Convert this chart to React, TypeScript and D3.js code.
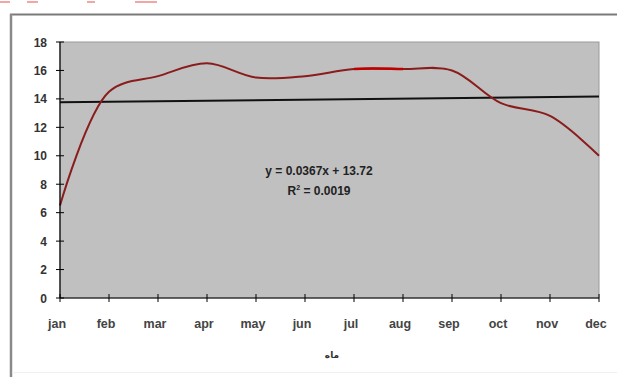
import React from "react";
import * as d3 from "d3";

const months = ["jan", "feb", "mar", "apr", "may", "jun", "jul", "aug", "sep", "oct", "nov", "dec"];
const values = [6.5, 14.5, 15.6, 16.5, 15.5, 15.6, 16.1, 16.1, 16.0, 13.7, 12.8, 10.0];
const yTicks = [0, 2, 4, 6, 8, 10, 12, 14, 16, 18];
const trendSlope = 0.0367;
const trendIntercept = 13.72;
const equationLines = ["y = 0.0367x + 13.72", "R² = 0.0019"];
const xTitle = "ماه";

const W = 617, H = 377;
const left = 60, right = 599, top = 42, bottom = 298;

export default function App() {
  const x = d3.scalePoint<string>().domain(months).range([left, right]);
  const y = d3.scaleLinear().domain([0, 18]).range([bottom, top]);
  const line = d3
    .line<number>()
    .x((_, i) => x(months[i]) as number)
    .y((d) => y(d))
    .curve(d3.curveCatmullRom.alpha(0.5));
  const t1 = trendIntercept + trendSlope * 1;
  const t12 = trendIntercept + trendSlope * 12;
  const font = "'Liberation Sans', Arial, sans-serif";
  const pathD = line(values) || "";
  const xj = x("jul") as number;
  const xa = x("aug") as number;
  return (
    <svg width={W} height={H} style={{ position: "absolute", left: 0, top: 0, background: "#fff" }}>
      <defs>
        <clipPath id="hl">
          <rect x={xj} y={top} width={xa - xj} height={bottom - top} />
        </clipPath>
      </defs>
      {/* cropped artifacts at top */}
      <g stroke="#e88" strokeWidth={1.5}>
        <line x1={0} x2={10} y1={2} y2={2} />
        <line x1={27} x2={38} y1={2} y2={2} />
        <line x1={87} x2={95} y1={2} y2={2} />
        <line x1={135} x2={157} y1={2} y2={2} />
      </g>
      {/* outer frame */}
      <line x1={10} x2={W} y1={14.5} y2={14.5} stroke="#7a7a7a" strokeWidth={2} />
      <line x1={11} x2={11} y1={14} y2={H} stroke="#8a8a8a" strokeWidth={2.5} />
      <line x1={12} x2={W} y1={372.5} y2={372.5} stroke="#f0f0f0" strokeWidth={1} />
      {/* plot area */}
      <rect x={left} y={top} width={right - left} height={bottom - top} fill="#c0c0c0" stroke="#9a9a9a" strokeWidth={1} />
      {/* trendline */}
      <line x1={left} x2={right} y1={y(t1)} y2={y(t12)} stroke="#111" strokeWidth={2} />
      {/* data line */}
      <path d={pathD} fill="none" stroke="#8a1c1c" strokeWidth={2} />
      <path d={pathD} fill="none" stroke="#c00000" strokeWidth={2.4} clipPath="url(#hl)" />
      {/* axes */}
      <line x1={left} x2={left} y1={top} y2={bottom} stroke="#000" strokeWidth={1.2} />
      <line x1={left} x2={right} y1={bottom} y2={bottom} stroke="#000" strokeWidth={1.2} />
      {yTicks.map((t) => (
        <g key={t}>
          <line x1={left - 4} x2={left + 4} y1={y(t)} y2={y(t)} stroke="#000" />
          <text x={left - 13} y={y(t) + 4.5} textAnchor="end" fontFamily={font} fontSize={12} fontWeight="bold" fill="#333">
            {t}
          </text>
        </g>
      ))}
      {months.map((m) => (
        <g key={m}>
          <line x1={x(m)} x2={x(m)} y1={bottom - 4} y2={bottom + 4} stroke="#000" />
          <text x={(x(m) as number) - 3} y={bottom + 30} textAnchor="middle" fontFamily={font} fontSize={12.5} fontWeight="bold" fill="#444">
            {m}
          </text>
        </g>
      ))}
      <text x={332} y={358} textAnchor="middle" fontFamily="'DejaVu Sans', 'Noto Sans', sans-serif" fontSize={9} fontWeight="bold" fill="#333" direction="rtl">
        {xTitle}
      </text>
      {/* equation */}
      <text x={319} y={175} textAnchor="middle" fontFamily={font} fontSize={12} fontWeight="bold" fill="#222">
        {equationLines[0]}
      </text>
      <text x={319} y={195} textAnchor="middle" fontFamily={font} fontSize={12} fontWeight="bold" fill="#222">
        R<tspan fontSize={7} dy={-5}>2</tspan>
        <tspan dy={5}> = 0.0019</tspan>
      </text>
    </svg>
  );
}
